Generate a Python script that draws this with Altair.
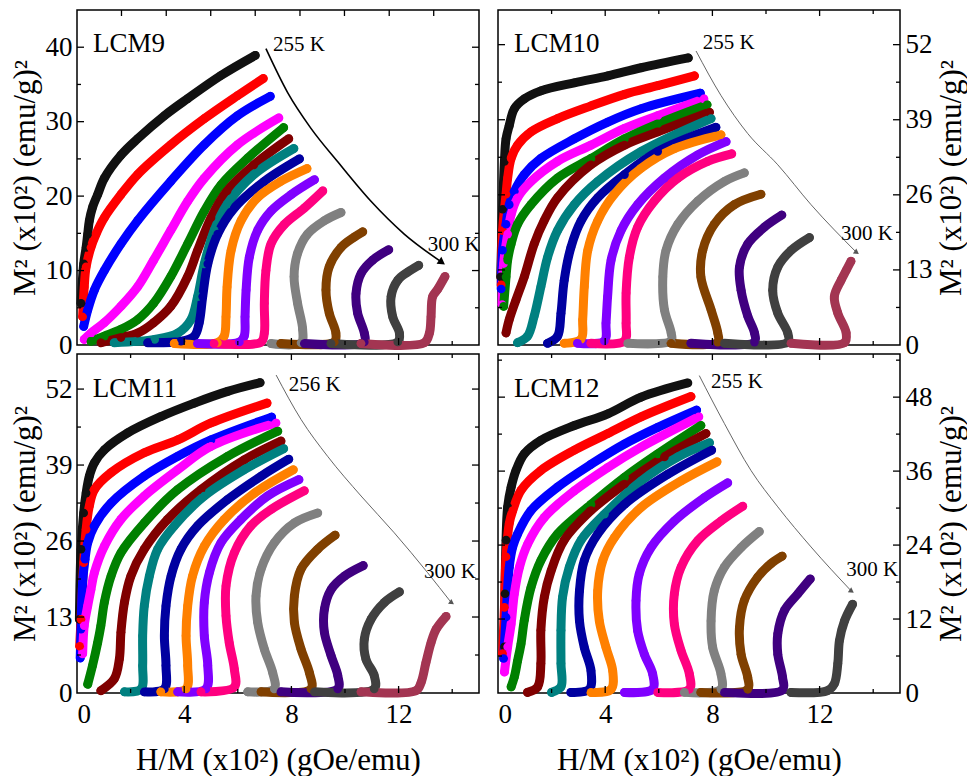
import altair as alt
import pandas as pd

FONT = "Liberation Serif"
COLORS = ["#111111", "#ff0000", "#0000ff", "#ff00ff", "#008000", "#800000",
          "#008080", "#0000a0", "#ff8000", "#8000ff", "#ff0080", "#808080",
          "#804000", "#400080", "#404040", "#a33552"]
X_TITLE = "H/M (x10²) (gOe/emu)"
Y_TITLE = "M² (x10²) (emu/g)²"
X_LABELS = [0, 4, 8, 12]
X_MAJOR = [4, 8, 12]
X_MINOR = [2, 6, 10, 14]
LCM9_TOP = [1.66, 3.33, 4.99, 6.65, 8.32, 9.98, 11.65, 13.31]

# ---------------- LCM9 ----------------
LCM9_H = [
    [0.15, 0.25, 0.34, 0.40, 0.46, 0.58, 0.77, 1.02, 1.64, 2.26, 3.26, 4.13, 5.37, 6.65],
    [0.21, 0.27, 0.34, 0.52, 0.71, 1.02, 1.64, 2.26, 3.50, 4.75, 5.99, 6.95],
    [0.25, 0.40, 0.65, 1.02, 1.64, 2.26, 3.50, 4.75, 5.99, 7.21],
    [0.27, 0.52, 1.02, 1.64, 2.26, 2.86, 3.50, 4.13, 4.75, 5.99, 7.53],
    [0.52, 1.02, 1.64, 2.26, 2.86, 3.50, 4.13, 4.75, 5.37, 6.37, 7.71],
    [0.90, 1.64, 2.26, 2.86, 3.50, 4.13, 4.50, 5.00, 5.60, 6.60, 7.90],
    [1.39, 2.90, 3.76, 4.25, 4.50, 4.75, 5.12, 5.60, 6.60, 8.09],
    [2.64, 3.88, 4.38, 4.56, 4.69, 4.88, 5.25, 5.87, 6.99, 8.30],
    [3.63, 5.24, 5.49, 5.56, 5.60, 5.75, 6.12, 6.74, 7.61, 8.58],
    [4.50, 6.06, 6.24, 6.27, 6.31, 6.43, 6.74, 7.24, 7.99, 8.86],
    [5.12, 6.87, 6.99, 6.99, 7.05, 7.24, 7.74, 8.48, 9.17],
    [7.24, 8.36, 8.42, 8.23, 8.10, 8.23, 8.60, 9.23, 9.85],
    [7.61, 9.60, 9.66, 9.41, 9.29, 9.41, 9.85, 10.35, 10.66],
    [8.48, 10.72, 10.72, 10.47, 10.41, 10.60, 11.03, 11.63],
    [9.48, 11.97, 12.03, 11.78, 11.72, 11.97, 12.34, 12.75],
    [10.60, 12.96, 13.15, 13.21, 13.27, 13.46, 13.73],
]
LCM9_M2 = [
    [5.6, 10.9, 13.1, 14.9, 16.7, 18.5, 20.2, 22.4, 25.5, 27.7, 30.8, 33.1, 36.2, 38.9],
    [3.8, 7.8, 10.5, 13.1, 14.9, 17.1, 20.2, 22.9, 26.9, 30.4, 33.5, 35.8],
    [2.5, 4.7, 7.4, 10.0, 13.6, 16.7, 22.0, 26.9, 30.8, 33.4],
    [0.75, 1.6, 3.0, 5.2, 7.8, 11.4, 15.4, 19.3, 22.4, 26.9, 30.5],
    [0.5, 1.2, 2.1, 3.4, 5.6, 9.2, 13.6, 18.0, 21.5, 25.1, 29.2],
    [0.3, 1.0, 1.6, 3.0, 5.2, 9.2, 12.7, 17.1, 20.7, 24.2, 27.7],
    [0.3, 0.75, 1.6, 3.4, 6.5, 10.9, 15.4, 18.9, 22.9, 26.4],
    [0.3, 0.5, 1.2, 3.0, 6.5, 10.9, 14.9, 18.4, 22.0, 25.0],
    [0.2, 0.3, 1.2, 3.8, 7.8, 12.7, 16.7, 19.8, 22.0, 23.7],
    [0.2, 0.4, 1.2, 3.8, 7.4, 11.8, 15.4, 18.0, 20.2, 22.2],
    [0.2, 0.4, 1.6, 5.6, 10.0, 13.6, 16.2, 18.4, 20.7],
    [0.2, 0.3, 2.1, 5.6, 9.2, 12.3, 14.9, 16.7, 17.8],
    [0.2, 0.4, 1.6, 4.3, 7.4, 10.5, 13.1, 14.5, 15.2],
    [0.2, 0.4, 1.6, 4.3, 6.9, 9.6, 11.4, 12.8],
    [0.2, 0.4, 1.6, 3.8, 6.5, 8.7, 9.8, 10.7],
    [0.2, 0.3, 1.6, 3.8, 6.5, 7.5, 9.2],
]
LCM9_ARROW_H = [7.05, 7.86, 8.73, 9.73, 10.97, 12.21, 13.58]
LCM9_ARROW_M = [39.8, 33.9, 29.1, 24.6, 19.3, 14.9, 11.2]

# ---------------- LCM10 ----------------
LCM10_H = [
    [0.10, 0.17, 0.24, 0.30, 0.42, 0.61, 0.98, 1.60, 2.85, 4.10, 5.34, 7.10],
    [0.12, 0.17, 0.30, 0.36, 0.49, 0.73, 1.23, 2.22, 3.47, 4.72, 5.96, 7.33],
    [0.12, 0.17, 0.30, 0.42, 0.61, 0.98, 1.60, 2.85, 4.10, 5.34, 7.55],
    [0.15, 0.21, 0.36, 0.49, 0.73, 1.23, 2.22, 3.47, 4.72, 5.96, 7.68],
    [0.21, 0.30, 0.36, 0.49, 0.73, 1.23, 2.22, 3.47, 4.72, 5.96, 7.80],
    [0.30, 0.42, 0.67, 0.98, 1.35, 1.72, 2.22, 3.47, 4.72, 5.96, 7.89],
    [0.73, 1.10, 1.35, 1.60, 1.85, 2.22, 2.85, 3.72, 5.34, 7.95],
    [1.85, 2.22, 2.35, 2.47, 2.72, 3.10, 3.72, 4.72, 5.96, 8.13],
    [2.47, 3.10, 3.16, 3.22, 3.35, 3.72, 4.34, 5.34, 6.58, 8.32],
    [2.97, 3.97, 4.03, 4.09, 4.22, 4.59, 5.21, 6.21, 7.45, 8.51],
    [3.47, 4.72, 4.78, 4.78, 4.90, 5.21, 5.83, 6.71, 7.82, 8.72],
    [4.84, 6.46, 6.46, 6.21, 6.15, 6.27, 6.71, 7.45, 8.44, 9.19],
    [6.46, 8.20, 8.20, 7.95, 7.57, 7.64, 8.07, 8.82, 9.81],
    [7.20, 9.57, 9.57, 9.32, 9.07, 9.01, 9.32, 9.94, 10.59],
    [8.45, 10.81, 10.81, 10.44, 10.25, 10.44, 10.94, 11.62],
    [10.93, 12.93, 12.99, 12.68, 12.55, 12.80, 12.99, 13.17],
]
LCM10_M2 = [
    [11.8, 23.5, 31.8, 35.7, 38.0, 40.9, 42.6, 44.0, 45.4, 46.6, 48.0, 49.7],
    [10.4, 19.8, 26.1, 28.9, 32.3, 34.6, 36.9, 39.2, 41.4, 43.4, 44.9, 46.6],
    [9.7, 16.4, 20.9, 24.3, 26.6, 29.5, 32.3, 35.7, 38.6, 40.9, 43.6],
    [7.0, 14.1, 19.2, 22.6, 25.5, 28.3, 31.8, 34.6, 37.5, 39.7, 42.6],
    [6.7, 11.8, 14.7, 17.5, 20.9, 24.3, 28.9, 32.3, 35.7, 38.3, 41.6],
    [2.1, 4.4, 7.8, 11.8, 17.5, 21.5, 25.5, 31.2, 34.6, 36.9, 40.3],
    [0.4, 1.5, 5.0, 10.1, 15.2, 19.8, 24.3, 28.3, 33.5, 39.2],
    [0.3, 1.5, 5.5, 11.2, 16.9, 21.5, 25.5, 29.5, 33.5, 37.7],
    [0.3, 1.0, 4.4, 10.1, 16.4, 21.5, 26.1, 30.6, 34.0, 36.4],
    [0.3, 0.7, 3.8, 8.4, 14.7, 19.8, 24.3, 28.9, 32.9, 35.2],
    [0.3, 0.7, 3.8, 9.0, 15.2, 20.4, 24.9, 28.9, 31.8, 33.1],
    [0.3, 0.7, 2.1, 6.1, 11.8, 16.4, 20.9, 24.9, 28.3, 29.8],
    [0.3, 0.5, 2.1, 6.1, 11.8, 16.4, 20.9, 24.3, 26.1],
    [0.3, 0.5, 2.1, 5.0, 9.5, 13.5, 17.5, 20.4, 22.5],
    [0.3, 0.5, 2.1, 5.5, 9.5, 13.5, 16.4, 18.6],
    [0.3, 0.4, 2.1, 5.5, 8.4, 11.2, 12.9, 14.5],
]
LCM10_ARROW_H = [7.39, 8.32, 9.32, 10.44, 11.68, 13.36]
LCM10_ARROW_M = [50.9, 43.2, 36.6, 31.2, 24.3, 16.1]

# ---------------- LCM11 ----------------
LCM11_H = [
    [0.09, 0.15, 0.25, 0.34, 0.46, 0.65, 1.02, 1.89, 3.13, 4.38, 5.62, 6.83],
    [0.10, 0.15, 0.25, 0.34, 0.46, 0.65, 1.27, 2.51, 3.76, 5.00, 7.09],
    [0.12, 0.15, 0.21, 0.30, 0.40, 0.65, 1.27, 2.51, 3.76, 5.00, 7.26],
    [0.21, 0.27, 0.40, 0.52, 0.65, 1.02, 1.64, 2.51, 3.76, 5.00, 7.42],
    [0.40, 0.58, 0.77, 0.89, 1.02, 1.27, 1.64, 2.51, 3.76, 5.62, 7.49],
    [0.89, 1.39, 1.58, 1.64, 1.77, 2.01, 2.51, 3.38, 4.63, 6.24, 7.61],
    [1.77, 2.39, 2.45, 2.45, 2.51, 2.70, 3.01, 3.63, 4.75, 6.24, 7.71],
    [2.51, 3.26, 3.32, 3.26, 3.32, 3.51, 3.88, 4.50, 5.62, 6.87, 7.90],
    [3.13, 4.07, 4.13, 4.07, 4.13, 4.31, 4.75, 5.50, 6.62, 8.07],
    [3.76, 4.81, 4.88, 4.75, 4.75, 4.94, 5.37, 6.12, 7.11, 8.28],
    [4.63, 5.87, 5.87, 5.68, 5.56, 5.56, 5.87, 6.49, 7.24, 8.48],
    [6.37, 7.36, 7.30, 6.99, 6.74, 6.68, 6.87, 7.36, 8.11, 8.98],
    [6.87, 8.73, 8.67, 8.36, 8.11, 8.11, 8.36, 8.98, 9.63],
    [7.61, 9.73, 9.73, 9.48, 9.23, 9.23, 9.48, 9.98, 10.68],
    [8.86, 11.09, 11.09, 10.78, 10.72, 10.97, 11.47, 12.03],
    [10.60, 12.65, 12.84, 13.02, 13.21, 13.40, 13.77],
]
LCM11_M2 = [
    [12.6, 24.6, 30.8, 34.2, 37.1, 39.4, 41.6, 44.5, 47.3, 49.6, 51.6, 53.1],
    [8.0, 12.6, 22.3, 28.0, 32.0, 34.8, 37.7, 41.1, 43.3, 46.2, 49.6],
    [6.0, 10.9, 18.9, 22.9, 25.7, 28.6, 32.5, 37.1, 40.5, 43.3, 47.2],
    [6.7, 11.5, 14.9, 17.7, 20.6, 25.1, 29.7, 33.7, 38.2, 42.2, 46.2],
    [1.5, 4.7, 8.6, 11.5, 15.5, 20.0, 24.0, 29.1, 34.8, 40.5, 44.8],
    [0.4, 2.4, 5.8, 10.4, 15.5, 20.0, 24.6, 29.7, 34.8, 39.9, 43.1],
    [0.2, 0.7, 4.7, 9.8, 14.9, 20.0, 24.6, 28.6, 33.7, 38.2, 41.8],
    [0.2, 0.7, 4.7, 9.8, 14.9, 20.0, 24.6, 28.6, 33.1, 37.1, 40.0],
    [0.2, 0.7, 4.7, 9.8, 14.9, 20.0, 25.1, 29.7, 34.2, 38.2],
    [0.2, 0.7, 4.7, 9.8, 15.5, 20.6, 25.7, 29.7, 33.7, 36.5],
    [0.2, 1.0, 4.1, 8.6, 13.2, 18.3, 24.0, 28.6, 31.4, 34.6],
    [0.2, 0.7, 3.5, 7.5, 12.1, 16.6, 21.2, 25.7, 29.1, 30.8],
    [0.2, 0.7, 3.5, 7.5, 12.1, 16.6, 21.2, 24.6, 27.0],
    [0.2, 0.7, 3.0, 6.4, 10.4, 14.3, 17.7, 20.0, 21.8],
    [0.2, 0.7, 3.0, 5.8, 9.2, 12.6, 15.5, 17.3],
    [0.2, 0.4, 1.8, 5.2, 8.6, 10.9, 13.1],
]
LCM11_ARROW_H = [7.43, 8.36, 9.35, 10.60, 11.84, 13.08, 13.96]
LCM11_ARROW_M = [54.4, 46.8, 40.5, 33.7, 27.4, 20.6, 15.5]

# ---------------- LCM12 ----------------
LCM12_H = [
    [0.24, 0.26, 0.30, 0.36, 0.49, 0.67, 0.98, 1.60, 2.85, 4.10, 5.34, 7.08],
    [0.17, 0.24, 0.30, 0.42, 0.55, 0.86, 1.60, 2.85, 4.10, 5.34, 7.20],
    [0.21, 0.30, 0.42, 0.55, 0.73, 1.23, 2.22, 3.47, 4.72, 5.96, 7.41],
    [0.24, 0.36, 0.49, 0.61, 0.80, 1.11, 1.73, 2.85, 4.10, 5.34, 7.49],
    [0.49, 0.61, 0.73, 0.86, 0.98, 1.23, 1.60, 2.22, 3.47, 4.72, 5.96, 7.57],
    [1.10, 1.48, 1.60, 1.60, 1.73, 1.98, 2.47, 3.47, 4.72, 6.21, 7.76],
    [2.00, 2.35, 2.35, 2.35, 2.41, 2.66, 3.10, 3.97, 5.34, 6.71, 7.89],
    [2.72, 3.41, 3.47, 3.22, 3.04, 3.04, 3.22, 3.72, 4.72, 6.34, 7.97],
    [3.47, 4.22, 4.28, 4.03, 3.78, 3.72, 3.91, 4.34, 5.34, 6.83, 8.17],
    [4.72, 5.77, 5.77, 5.46, 5.21, 5.15, 5.27, 5.71, 6.58, 7.70, 8.57],
    [5.96, 7.14, 7.14, 6.83, 6.58, 6.58, 6.83, 7.45, 8.32, 9.13],
    [6.96, 8.32, 8.32, 8.01, 7.95, 8.07, 8.44, 9.07, 9.75],
    [7.57, 9.32, 9.32, 9.07, 9.01, 9.19, 9.69, 10.19, 10.60],
    [8.45, 10.62, 10.62, 10.44, 10.44, 10.69, 11.19, 11.65],
    [10.93, 12.30, 12.55, 12.68, 12.74, 12.93, 13.23],
]
LCM12_M2 = [
    [7.5, 16.1, 24.8, 30.2, 33.4, 36.1, 38.8, 41.0, 43.4, 45.3, 48.0, 50.3],
    [6.4, 13.9, 22.1, 27.5, 29.6, 32.9, 36.1, 39.4, 42.1, 44.8, 48.1],
    [5.6, 12.3, 20.4, 23.7, 25.8, 29.6, 33.4, 37.1, 40.4, 43.1, 45.9],
    [3.4, 7.5, 11.2, 16.1, 20.4, 24.2, 28.5, 32.8, 36.6, 39.9, 44.8],
    [1.0, 2.6, 5.2, 8.0, 11.8, 17.1, 21.5, 25.8, 30.6, 35.0, 38.8, 43.4],
    [0.1, 1.0, 4.8, 10.2, 15.6, 19.8, 24.8, 29.6, 33.9, 38.3, 42.1],
    [0.1, 1.0, 4.8, 10.2, 15.6, 20.4, 24.8, 29.0, 34.4, 38.3, 40.6],
    [0.1, 0.6, 3.6, 7.4, 11.7, 16.6, 21.5, 25.8, 30.6, 35.5, 39.4],
    [0.1, 0.6, 3.6, 7.4, 11.7, 16.6, 21.5, 25.2, 30.1, 34.4, 37.5],
    [0.1, 0.6, 3.1, 6.3, 10.1, 15.0, 19.3, 23.6, 27.9, 31.7, 34.1],
    [0.1, 0.6, 3.1, 6.9, 11.2, 16.1, 20.4, 24.7, 27.9, 30.3],
    [0.1, 0.6, 3.1, 7.4, 11.7, 16.6, 20.4, 23.6, 26.2],
    [0.1, 0.6, 2.5, 6.3, 10.6, 15.0, 18.8, 21.0, 22.2],
    [0.1, 0.5, 2.5, 6.3, 9.6, 13.4, 16.1, 18.5],
    [0.1, 0.4, 1.5, 4.8, 8.5, 11.7, 14.4],
]
LCM12_ARROW_H = [7.51, 8.45, 9.44, 10.44, 11.68, 13.17]
LCM12_ARROW_M = [51.5, 43.7, 36.1, 30.2, 23.7, 16.6]


def ticks(vals, side, length, W, H, xs, ys):
    df = pd.DataFrame({"v": vals})
    m = alt.Chart(df).mark_rule(color="black", strokeWidth=1.3)
    if side == "left":
        return m.encode(y=alt.Y("v:Q", scale=ys), x=alt.value(0), x2=alt.value(length))
    if side == "right":
        return m.encode(y=alt.Y("v:Q", scale=ys), x=alt.value(W - length), x2=alt.value(W))
    if side == "bottom":
        return m.encode(x=alt.X("v:Q", scale=xs), y=alt.value(H - length), y2=alt.value(H))
    return m.encode(x=alt.X("v:Q", scale=xs), y=alt.value(0), y2=alt.value(length))


def panel(name, hs, ms, ymax, ylabels, yminor, side, show_x, top_major, top_minor,
          arrow_h, arrow_m, arrow_color, arrow_w, head_size, name_pos, temps, W, H):
    xs = alt.Scale(domain=[0, 15], nice=False, zero=False)
    ys = alt.Scale(domain=[0, ymax], nice=False, zero=False)
    rows = []
    for ci, (hx, my) in enumerate(zip(hs, ms)):
        for k, (a, b) in enumerate(zip(hx, my)):
            rows.append({"c": "s%02d" % ci, "k": k, "x": a, "y": b})
    df = pd.DataFrame(rows)
    n = len(hs)
    cscale = alt.Scale(domain=["s%02d" % i for i in range(n)], range=COLORS[:n])
    if side == "left":
        yaxis = alt.Axis(orient="left", values=ylabels, title=Y_TITLE, labelPadding=5,
                         titlePadding=4, labelOverlap=False, grid=False, ticks=False,
                         domain=False)
    else:
        yaxis = alt.Axis(orient="right", values=ylabels, title=Y_TITLE, labelPadding=5,
                         titlePadding=4, labelOverlap=False, titleAngle=270,
                         titleBaseline="top", grid=False, ticks=False, domain=False)
    if show_x:
        xaxis = alt.Axis(values=X_LABELS, title=X_TITLE, labelPadding=8, titlePadding=18,
                         labelOverlap=False, grid=False, ticks=False, domain=False)
    else:
        xaxis = alt.Axis(values=X_LABELS, labels=False, title=None, grid=False,
                         ticks=False, domain=False)
    base = alt.Chart(df)
    lines = base.mark_line(strokeWidth=9, strokeCap="round", strokeJoin="round",
                           interpolate="catmull-rom").encode(
        x=alt.X("x:Q", scale=xs, axis=xaxis), y=alt.Y("y:Q", scale=ys, axis=yaxis),
        color=alt.Color("c:N", scale=cscale, legend=None), order="k:Q")
    pts = base.mark_circle(size=75, opacity=1).encode(
        x=alt.X("x:Q", scale=xs), y=alt.Y("y:Q", scale=ys),
        color=alt.Color("c:N", scale=cscale, legend=None))
    adf = pd.DataFrame({"x": arrow_h, "y": arrow_m, "k": list(range(len(arrow_h)))})
    arrow = alt.Chart(adf).mark_line(color=arrow_color, strokeWidth=arrow_w,
                                     interpolate="monotone").encode(
        x=alt.X("x:Q", scale=xs), y=alt.Y("y:Q", scale=ys), order="k:Q")
    hdf = pd.DataFrame({"x": [arrow_h[-1]], "y": [arrow_m[-1]]})
    head = alt.Chart(hdf).mark_point(shape="triangle", filled=True, color=arrow_color,
                                     size=head_size, angle=125, opacity=1).encode(
        x=alt.X("x:Q", scale=xs), y=alt.Y("y:Q", scale=ys))
    ndf = pd.DataFrame({"x": [name_pos[0]], "y": [name_pos[1]], "t": [name]})
    ntext = alt.Chart(ndf).mark_text(font=FONT, fontSize=27, align="left",
                                     baseline="middle", color="black").encode(
        x=alt.X("x:Q", scale=xs), y=alt.Y("y:Q", scale=ys), text="t:N")
    tdf = pd.DataFrame({"x": [t[1] for t in temps], "y": [t[2] for t in temps],
                        "t": [t[0] for t in temps]})
    ttext = alt.Chart(tdf).mark_text(font=FONT, fontSize=21, align="left",
                                     baseline="middle", color="black").encode(
        x=alt.X("x:Q", scale=xs), y=alt.Y("y:Q", scale=ys), text="t:N")
    layers = [lines, pts, arrow, head, ntext, ttext,
              ticks(ylabels[1:], "left", 7, W, H, xs, ys),
              ticks(ylabels[1:], "right", 7, W, H, xs, ys),
              ticks(yminor, "left", 4, W, H, xs, ys),
              ticks(yminor, "right", 4, W, H, xs, ys),
              ticks(X_MAJOR, "bottom", 7, W, H, xs, ys),
              ticks(X_MINOR, "bottom", 4, W, H, xs, ys),
              ticks(top_major, "top", 6, W, H, xs, ys)]
    if top_minor:
        layers.append(ticks(top_minor, "top", 4, W, H, xs, ys))
    return alt.layer(*layers).properties(width=W, height=H)


W = 402
p9 = panel("LCM9", LCM9_H, LCM9_M2, 45, [0, 10, 20, 30, 40], [5, 15, 25, 35], "left",
           False, LCM9_TOP, [], LCM9_ARROW_H, LCM9_ARROW_M, "black", 1.6, 70,
           (0.6, 40.4), [("255 K", 7.31, 40.3), ("300 K", 13.09, 13.4)], W, 335)
p10 = panel("LCM10", LCM10_H, LCM10_M2, 58, [0, 13, 26, 39, 52], [6.5, 19.5, 32.5, 45.5],
            "right", False, X_MAJOR, X_MINOR, LCM10_ARROW_H, LCM10_ARROW_M, "#555555",
            0.9, 35, (0.6, 52.2), [("255 K", 7.64, 52.3), ("300 K", 12.8, 19.2)], W, 335)
p11 = panel("LCM11", LCM11_H, LCM11_M2, 58, [0, 13, 26, 39, 52], [6.5, 19.5, 32.5, 45.5],
            "left", True, X_MAJOR, X_MINOR, LCM11_ARROW_H, LCM11_ARROW_M, "#555555",
            0.9, 35, (0.59, 52.0), [("256 K", 7.9, 52.7), ("300 K", 12.95, 20.7)], W, 339)
p12 = panel("LCM12", LCM12_H, LCM12_M2, 55, [0, 12, 24, 36, 48], [6, 18, 30, 42, 54],
            "right", True, X_MAJOR, X_MINOR, LCM12_ARROW_H, LCM12_ARROW_M, "#555555",
            0.9, 35, (0.6, 49.4), [("255 K", 7.95, 50.4), ("300 K", 12.99, 19.9)], W, 339)

chart = alt.concat(p9, p10, p11, p12, columns=2, spacing={"row": 9, "column": 19},
                   bounds="flush").properties(
    padding=0
).configure_axis(
    labelFont=FONT, labelFontSize=27, titleFont=FONT, titleFontSize=31,
    titleFontWeight="normal", labelColor="black", titleColor="black"
).configure_view(stroke="black", strokeWidth=1.5)

chart.save("out.html", embed_options={"renderer": "svg", "actions": False})
